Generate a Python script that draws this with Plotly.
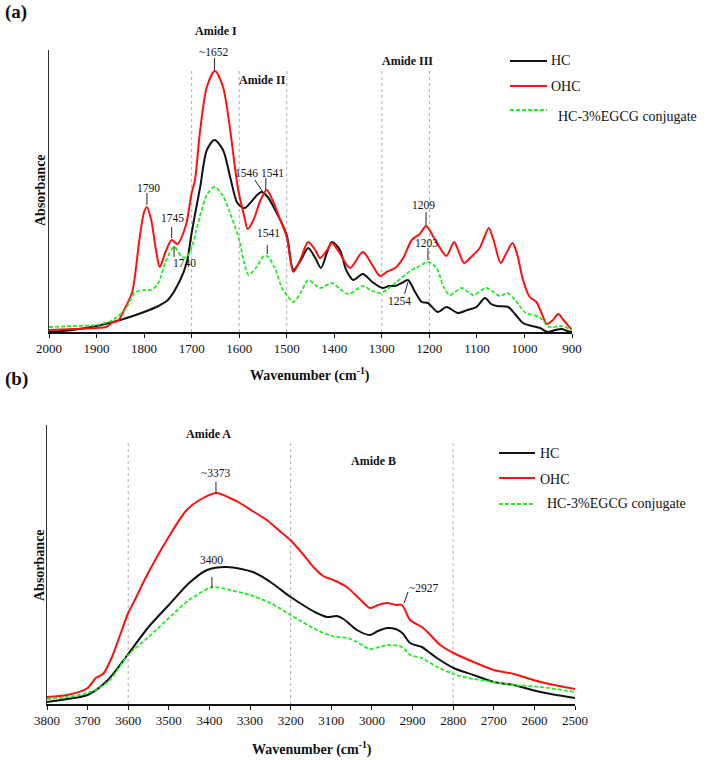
import plotly.graph_objects as go

# ---------------- Panel (a): 2000-900 cm-1 ----------------
a_red_x = [2000, 1950, 1900, 1880, 1865, 1855, 1840, 1825, 1810, 1800, 1794, 1785, 1775, 1767, 1755, 1742,
           1730, 1712, 1700, 1693, 1682, 1668, 1651, 1634, 1619, 1609, 1602, 1590, 1582, 1570, 1555, 1542,
           1530, 1515, 1500, 1486, 1470, 1455, 1440, 1430, 1415, 1405, 1390, 1367, 1340, 1320, 1304, 1290,
           1272, 1255, 1237, 1220, 1207, 1190, 1175, 1164, 1148, 1138, 1127, 1110, 1094, 1085, 1075, 1065,
           1050, 1040, 1025, 1015, 1003, 989, 975, 965, 953, 940, 929, 918, 900]
a_red_y = [2, 3, 4, 5, 10, 11, 24, 40, 92, 120, 125, 112, 82, 65, 80, 92,
           88, 107, 139, 152, 202, 245, 261, 245, 202, 165, 142, 117, 103, 112, 132, 142,
           132, 114, 95, 60, 74, 90, 82, 74, 82, 89, 80, 64, 80, 67, 56, 60,
           64, 74, 92, 98, 106, 94, 82, 76, 90, 80, 69, 76, 84, 94, 104, 92,
           69, 77, 89, 77, 52, 35, 30, 20, 8, 12, 18, 12, 2]

a_hc_x = [2000, 1950, 1900, 1850, 1800, 1770, 1750, 1724, 1710, 1700, 1690, 1682, 1668, 1652, 1634, 1619,
          1605, 1595, 1588, 1575, 1560, 1553, 1540, 1520, 1500, 1486, 1470, 1455, 1440, 1428, 1415, 1405,
          1388, 1375, 1360, 1340, 1320, 1298, 1285, 1272, 1258, 1245, 1230, 1216, 1203, 1182, 1164, 1140,
          1120, 1101, 1083, 1070, 1058, 1034, 1020, 1003, 985, 967, 951, 935, 922, 910, 900]
a_hc_y = [0, 2, 6, 12, 20, 26, 32, 52, 70, 99, 125, 145, 182, 192, 182, 155,
          130, 125, 124, 130, 138, 140, 135, 118, 97, 62, 72, 84, 74, 64, 80, 90,
          82, 62, 52, 58, 50, 44, 46, 46, 49, 52, 40, 30, 29, 20, 25, 19,
          22, 25, 34, 28, 26, 25, 18, 9, 6, 4, 0, 2, 3, 1, 0]

a_egcg_x = [2000, 1950, 1900, 1870, 1860, 1840, 1820, 1800, 1785, 1770, 1755, 1737, 1720, 1710, 1700, 1690,
            1680, 1668, 1652, 1635, 1620, 1600, 1590, 1580, 1565, 1548, 1541, 1525, 1510, 1500, 1486, 1470,
            1455, 1440, 1430, 1405, 1388, 1370, 1340, 1320, 1304, 1290, 1272, 1237, 1220, 1203, 1185, 1170,
            1157, 1132, 1108, 1080, 1052, 1036, 1020, 997, 969, 948, 922, 900]
a_egcg_y = [5, 6, 7, 11, 14, 22, 39, 42, 42, 49, 70, 85, 75, 75, 84, 102,
            120, 137, 145, 137, 120, 92, 70, 57, 64, 76, 76, 64, 44, 37, 30, 40,
            52, 47, 44, 49, 43, 38, 46, 41, 39, 42, 49, 62, 66, 70, 64, 45,
            37, 44, 37, 44, 36, 39, 32, 19, 15, 5, 6, 2]

a_ticks = [2000, 1900, 1800, 1700, 1600, 1500, 1400, 1300, 1200, 1100, 1000, 900]
a_region_lines = [1700, 1600, 1500, 1300, 1200]

# ---------------- Panel (b): 3800-2500 cm-1 ----------------
b_red_x = [3800, 3750, 3700, 3680, 3670, 3660, 3640, 3620, 3600, 3580, 3560, 3505, 3456, 3420, 3382, 3350,
           3325, 3290, 3259, 3230, 3201, 3170, 3144, 3120, 3095, 3062, 3030, 3005, 2985, 2963, 2940, 2926,
           2906, 2877, 2856, 2832, 2799, 2750, 2700, 2651, 2585, 2500]
b_red_y = [7, 9, 16, 26, 28, 31, 47, 69, 91, 107, 124, 164, 194, 205, 211, 206,
           201, 192, 184, 174, 164, 150, 137, 128, 124, 117, 105, 96, 99, 101, 99, 99,
           84, 77, 69, 59, 51, 42, 34, 30, 22, 15]

b_hc_x = [3800, 3750, 3700, 3650, 3600, 3550, 3500, 3450, 3406, 3357, 3293, 3250, 3200, 3136, 3110,
          3086, 3070, 3037, 3005, 2985, 2962, 2942, 2925, 2906, 2877, 2860, 2840, 2799, 2750, 2700, 2651,
          2585, 2500]
b_hc_y = [2, 5, 9, 24, 50, 77, 99, 121, 134, 137, 132, 122, 107, 91, 87,
          88, 85, 74, 69, 73, 76, 75, 71, 61, 57, 52, 46, 36, 29, 22, 19,
          12, 6]

b_egcg_x = [3800, 3750, 3700, 3650, 3600, 3550, 3500, 3450, 3400, 3388, 3350, 3300, 3250, 3200, 3150, 3100,
            3060, 3037, 3005, 2962, 2926, 2906, 2877, 2840, 2799, 2750, 2700, 2651, 2585, 2500]
b_egcg_y = [5, 7, 11, 22, 49, 67, 86, 104, 116, 117, 114, 109, 101, 89, 77, 68,
            66, 62, 55, 59, 57, 49, 46, 37, 30, 25, 22, 19, 17, 12]

b_ticks = [3800, 3700, 3600, 3500, 3400, 3300, 3200, 3100, 3000, 2900, 2800, 2700, 2600, 2500]
b_region_lines = [3600, 3200, 2800]

series_names = ["HC", "OHC", "HC-3%EGCG conjugate"]
series_colors = ["#111111", "#ff1010", "#22ee22"]

# peak labels: (text, label x, label y, tick x0, y0, x1, y1)
a_labels = [
    ("~1652", 1653, 280, 1652, 274, 1652, 262),
    ("1546", 1584, 159, 1567, 152, 1550, 140),
    ("1541", 1529, 159, 1544, 154, 1544, 142),
    ("1790", 1790, 144, 1794, 139, 1794, 127),
    ("1745", 1741, 114, 1742, 105, 1742, 94),
    ("1740", 1714, 69, 1737, 86, 1737, 75),
    ("1541", 1539, 99, 1541, 87, 1541, 78),
    ("1209", 1213, 127, 1207, 120, 1207, 107),
    ("1203", 1207, 89, 1203, 84, 1203, 72),
    ("1254", 1262, 31, 1245, 50, 1252, 38),
]
b_labels = [
    ("~3373", 3386, 231, 3384, 222, 3384, 211),
    ("3400", 3394, 144, 3394, 127, 3394, 116),
    ("~2927", 2874, 116, 2911, 112, 2921, 101),
]
a_regions = [("Amide I", 1649, 31), ("Amide II", 1550, 80), ("Amide III", 1247, 61)]
b_regions = [("Amide A", 3403, 434), ("Amide B", 2997, 461)]

W, H = 708, 760
FONT = "Liberation Serif"


def px(x):
    return x / W


def py(y):
    return 1 - y / H


fig = go.Figure()

a_data = [(a_hc_x, a_hc_y), (a_red_x, a_red_y), (a_egcg_x, a_egcg_y)]
b_data = [(b_hc_x, b_hc_y), (b_red_x, b_red_y), (b_egcg_x, b_egcg_y)]
for data, xa, ya in [(a_data, "x", "y"), (b_data, "x2", "y2")]:
    for i, (xs, ys) in enumerate(data):
        fig.add_trace(go.Scatter(
            x=xs, y=ys, mode="lines", name=series_names[i], showlegend=False,
            xaxis=xa, yaxis=ya,
            line=dict(color=series_colors[i], width=2 if i < 2 else 1.8,
                      dash="4px,2px" if i == 2 else "solid", shape="spline", smoothing=0.8),
        ))

shapes = []
annotations = []

# dotted region lines
for xv in a_region_lines:
    shapes.append(dict(type="line", xref="x", yref="y", x0=xv, x1=xv, y0=0, y1=264,
                       line=dict(color="#a8adb4", width=1, dash="dot"), layer="below"))
for xv in b_region_lines:
    shapes.append(dict(type="line", xref="x2", yref="y2", x0=xv, x1=xv, y0=0, y1=261,
                       line=dict(color="#a8adb4", width=1, dash="dot"), layer="below"))

for labels, xr, yr in [(a_labels, "x", "y"), (b_labels, "x2", "y2")]:
    for text, lx, ly, x0, y0, x1, y1 in labels:
        annotations.append(dict(text=text, x=lx, y=ly, xref=xr, yref=yr, showarrow=False,
                                font=dict(family=FONT, size=11.5, color="#111"), xanchor="center",
                                yanchor="middle"))
        shapes.append(dict(type="line", xref=xr, yref=yr, x0=x0, y0=y0, x1=x1, y1=y1,
                           line=dict(color="#222", width=1)))

for regions, xr in [(a_regions, "x"), (b_regions, "x2")]:
    for text, lx, ly in regions:
        annotations.append(dict(text="<b>" + text + "</b>", x=lx, y=py(ly), xref=xr, yref="paper",
                                showarrow=False, font=dict(family=FONT, size=12, color="#111"),
                                xanchor="center", yanchor="middle"))

# legends (drawn manually to match the original layout)
legend_specs = [
    (510, 547, 550, 557, [61, 86, 110], [61, 86, 116]),
    (499, 535, 539, 546, [453, 478, 504], [453, 479, 503]),
]
for lx0, lx1, tx, tx3, line_ys, text_ys in legend_specs:
    for i in range(3):
        shapes.append(dict(type="line", xref="paper", yref="paper", x0=px(lx0), x1=px(lx1),
                           y0=py(line_ys[i]), y1=py(line_ys[i]),
                           line=dict(color=series_colors[i], width=2 if i < 2 else 1.8,
                                     dash="4px,2px" if i == 2 else "solid")))
        annotations.append(dict(text=series_names[i], x=px(tx if i < 2 else tx3), y=py(text_ys[i]),
                                xref="paper", yref="paper", showarrow=False, xanchor="left",
                                yanchor="middle", borderpad=0,
                                font=dict(family=FONT, size=14, color="#111")))

# panel letters and axis titles
for text, xx, yy in [("(a)", 3, 12), ("(b)", 3, 379)]:
    annotations.append(dict(text="<b>" + text + "</b>", x=px(xx), y=py(yy), xref="paper", yref="paper",
                            showarrow=False, xanchor="left", yanchor="middle",
                            font=dict(family=FONT, size=19, color="#111")))
for xx, yy in [(310, 374), (312, 748)]:
    annotations.append(dict(text="<b>Wavenumber (cm<sup>-1</sup>)</b>", x=px(xx), y=py(yy),
                            xref="paper", yref="paper", showarrow=False, xanchor="center",
                            yanchor="middle", font=dict(family=FONT, size=14, color="#111")))
for xx, yy in [(40, 190), (39, 565)]:
    annotations.append(dict(text="<b>Absorbance</b>", x=px(xx), y=py(yy), xref="paper", yref="paper",
                            showarrow=False, textangle=-90, xanchor="center", yanchor="middle",
                            font=dict(family=FONT, size=14, color="#111")))

xaxis_common = dict(showgrid=False, zeroline=False, showline=True, linecolor="#111", linewidth=1.5,
                    ticks="outside", ticklen=4, tickwidth=1, tickcolor="#111", automargin=False,
                    tickfont=dict(family=FONT, size=13, color="#111"))
yaxis_common = dict(showgrid=False, zeroline=False, showline=True, linecolor="#333", linewidth=1.3,
                    showticklabels=False, ticks="", automargin=False)

fig.update_layout(
    width=W, height=H, margin=dict(l=0, r=0, t=0, b=0, autoexpand=False),
    paper_bgcolor="white", plot_bgcolor="white",
    xaxis=dict(domain=[px(49), px(572)], range=[2000, 900], tickvals=a_ticks, anchor="y", **xaxis_common),
    yaxis=dict(domain=[py(332), py(50)], range=[0, 282], anchor="x", **yaxis_common),
    xaxis2=dict(domain=[px(47), px(575)], range=[3800, 2500], tickvals=b_ticks, anchor="y2", **xaxis_common),
    yaxis2=dict(domain=[py(704), py(425)], range=[0, 279], anchor="x2", **yaxis_common),
    shapes=shapes, annotations=annotations, showlegend=False,
)

fig.write_html("out.html", config={"displayModeBar": False},
               post_script="document.body.style.margin='0';document.body.style.overflow='hidden';")
